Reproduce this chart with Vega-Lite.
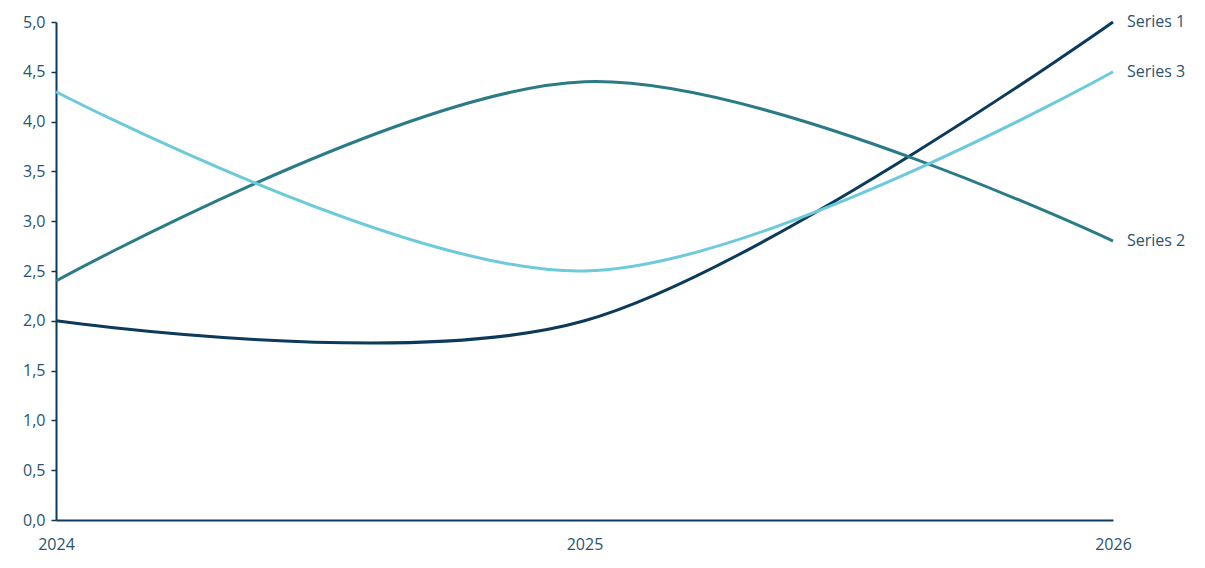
{
  "$schema": "https://vega.github.io/schema/vega-lite/v6.json",
  "width": 1057,
  "height": 498,
  "autosize": {"type": "none"},
  "padding": {"left": 56, "top": 22, "right": 92, "bottom": 48},
  "background": "white",
  "config": {
    "view": {"stroke": null},
    "font": "Open Sans",
    "locale": {"number": {"decimal": ",", "thousands": ".", "grouping": [3], "currency": ["", " €"]}}
  },
  "data": {
    "values": [
      {"year": "2024", "series": "Series 1", "value": 2.0},
      {"year": "2025", "series": "Series 1", "value": 2.0},
      {"year": "2026", "series": "Series 1", "value": 5.0},
      {"year": "2024", "series": "Series 2", "value": 2.4},
      {"year": "2025", "series": "Series 2", "value": 4.4},
      {"year": "2026", "series": "Series 2", "value": 2.8},
      {"year": "2024", "series": "Series 3", "value": 4.3},
      {"year": "2025", "series": "Series 3", "value": 2.5},
      {"year": "2026", "series": "Series 3", "value": 4.5}
    ]
  },
  "encoding": {
    "x": {
      "field": "year", "type": "ordinal",
      "scale": {"type": "point", "padding": 0},
      "axis": {
        "title": null, "labelAngle": 0,
        "grid": false, "ticks": false, "domainColor": "#0c3a5b", "domainWidth": 2,
        "labelColor": "#2b5470", "labelFontSize": 16, "labelPadding": 16,
        "labelOverlap": false
      }
    },
    "y": {
      "field": "value", "type": "quantitative",
      "scale": {"domain": [0, 5], "nice": false},
      "axis": {
        "title": null, "tickCount": 11, "values": [0, 0.5, 1, 1.5, 2, 2.5, 3, 3.5, 4, 4.5, 5],
        "format": ".1f", "grid": false, "ticks": true, "tickSize": 5,
        "tickColor": "#0c3a5b", "tickWidth": 1.5,
        "domainColor": "#0c3a5b", "domainWidth": 2,
        "labelColor": "#2b5470", "labelFontSize": 16, "labelPadding": 6,
        "labelOverlap": false
      }
    },
    "color": {
      "field": "series", "type": "nominal",
      "scale": {"domain": ["Series 1", "Series 2", "Series 3"], "range": ["#0c3a5b", "#2a7b86", "#6ccadb"]},
      "legend": null
    }
  },
  "layer": [
    {
      "mark": {"type": "line", "interpolate": "cardinal", "strokeWidth": 3}
    },
    {
      "transform": [{"filter": "datum.year == '2026'"}],
      "mark": {"type": "text", "align": "left", "baseline": "middle", "dx": 14, "fontSize": 16, "color": "#2b5470"},
      "encoding": {
        "text": {"field": "series"},
        "color": {"value": "#2b5470"}
      }
    }
  ]
}
